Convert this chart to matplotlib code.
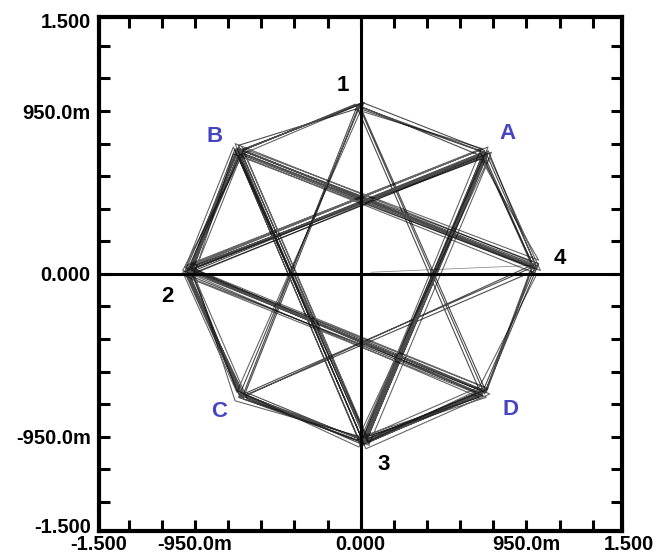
import numpy as np
import matplotlib
matplotlib.use("Agg")
import matplotlib.pyplot as plt
from matplotlib.transforms import ScaledTranslation

# symbol trajectory of the 8-point constellation (volts)
trace_x = [-0.98, -0.71, 1.01, -0.67, -1.00, 0.72, 0.01, -0.69, -0.97, 0.71,
           0.03, -0.70, 0.00, -0.72, 0.99, 0.70, -0.99, -0.69, 0.02, 0.73,
           -0.02, 0.69, -0.98, -0.70, 0.04, 0.72, 1.02, -0.68, 0.01, 0.71,
           0.00, -0.71, -1.01, 0.70, 1.00, -0.69, -0.98, 0.70, 0.01, -0.67,
           -0.99, -0.69, 0.98, 0.71, -0.01, -0.66, 0.03, 0.72, -0.97, -0.71,
           0.02, 0.69, -1.00, 0.71, -0.03, -0.70, 1.01, 0.73, 0.02, -0.68,
           -0.99, -0.72, 0.00, 0.70, -0.98, 0.70, 0.03, -0.70, 0.00, 0.72,
           0.99, -0.69, -1.00, -0.69, 0.01, 0.71, -0.99, 0.72, 1.00, -0.68,
           -0.02, 0.71, 0.02, -0.71, -0.98, 0.70, 0.02, -0.70, -0.99, -0.70,
           1.00, 0.69, 0.01, 0.72, -0.98, -0.71, -0.01]
trace_y = [0.02, 0.73, 0.05, -0.70, 0.00, 0.71, -0.97, 0.70, 0.03, -0.68,
           -0.99, -0.72, 0.99, 0.71, 0.03, 0.69, 0.02, -0.69, -1.00, 0.70,
           0.97, -0.70, -0.01, 0.74, -0.97, -0.67, 0.06, 0.72, 1.00, 0.72,
           -0.99, 0.70, 0.01, 0.71, 0.02, -0.72, 0.04, -0.71, -0.96, -0.73,
           -0.02, 0.73, 0.04, -0.70, 0.98, -0.69, -0.98, 0.69, 0.00, 0.72,
           -0.99, -0.68, 0.03, 0.68, 0.99, 0.71, 0.03, 0.72, -0.97, -0.70,
           0.01, 0.73, -1.00, -0.70, 0.02, 0.70, -0.98, 0.75, 0.97, -0.69,
           0.05, 0.71, -0.01, -0.71, -0.98, -0.69, 0.03, 0.70, 0.06, -0.72,
           0.98, 0.71, -0.99, 0.72, 0.01, -0.68, -0.97, -0.70, 0.00, 0.73,
           0.04, -0.71, -0.99, 0.71, 0.02, 0.71, 0.99]

# second capture, noisier
trace2_x = [-0.68, 0.04, 0.73, -1.01, 0.69, -0.01, -0.71, -0.96, -0.73, 1.03,
            0.74, 0.05, -0.67, -1.02, 0.68, 0.00, -0.72, -0.97, 0.68, 0.98,
            -0.72, 0.03, 0.74, -1.01, -0.69, 1.01, 0.68, -0.02, 0.75, -0.96,
            -0.65, 0.05, -0.73, -1.00, 0.73, 0.00, 0.72, -0.97, -0.67, 1.02,
            0.69, -1.02, -0.71, 0.02, -0.70, 0.04, 0.71, -0.98, 0.70, -0.03]
trace2_y = [0.74, -0.96, -0.67, 0.04, 0.73, -1.01, -0.68, -0.02, 0.70, 0.02,
            0.68, -0.99, 0.71, 0.02, -0.72, -0.95, -0.74, 0.05, 0.72, 0.07,
            0.76, -1.02, -0.70, -0.01, 0.69, 0.00, -0.66, -0.97, 0.71, 0.00,
            -0.73, -1.00, 0.74, 0.05, 0.74, -0.96, -0.72, -0.03, 0.73, 0.08,
            0.67, 0.01, -0.69, 1.00, 0.69, -0.98, -0.66, 0.04, 0.73, 0.96]

# a stray transition near the origin
stray_x = [0.06, 1.00]
stray_y = [0.01, 0.05]

# symbol names and where they are written
point_labels = ["1", "A", "4", "D", "3", "C", "2", "B"]
label_x = [-0.10, 0.84, 1.14, 0.86, 0.13, -0.81, -1.11, -0.84]
label_y = [1.10, 0.82, 0.09, -0.79, -1.11, -0.80, -0.13, 0.80]
label_colors = ["black", "#4545c2", "black", "#4545c2",
                "black", "#4545c2", "black", "#4545c2"]

tick_vals = [-1.5, -0.95, 0.0, 0.95, 1.5]
tick_text = ["-1.500", "-950.0m", "0.000", "950.0m", "1.500"]
minor_vals = [k * 0.19 for k in range(-7, 8) if k % 5 != 0]

plt.rcParams["font.family"] = "Liberation Sans"
plt.rcParams["font.weight"] = "bold"

fig = plt.figure(figsize=(6.6, 5.59), dpi=100)
ax = fig.add_axes([0.150, 0.050, 0.793, 0.920])

ax.plot(trace_x, trace_y, color="black", lw=0.8, alpha=0.7)
ax.plot(trace2_x, trace2_y, color="black", lw=0.8, alpha=0.6)
ax.plot(stray_x, stray_y, color="black", lw=0.5, alpha=0.5)

ax.axhline(0, color="black", lw=2.2)
ax.axvline(0, color="black", lw=2.2)

for txt, x, y, c in zip(point_labels, label_x, label_y, label_colors):
    ax.text(x, y, txt, color=c, fontsize=16, fontweight="bold",
            ha="center", va="center")

ax.set_xlim(-1.5, 1.5)
ax.set_ylim(-1.5, 1.5)
ax.set_xticks(tick_vals)
ax.set_xticklabels(tick_text)
ax.set_yticks(tick_vals)
ax.set_yticklabels(tick_text)
ax.set_xticks(minor_vals, minor=True)
ax.set_yticks(minor_vals, minor=True)
for which in ("major", "minor"):
    ax.tick_params(axis="both", which=which, direction="in", length=8,
                   width=2.2, top=True, right=True, labelsize=14.5)
ax.tick_params(axis="x", which="major", pad=3)
ax.tick_params(axis="y", which="major", pad=6)
for s in ax.spines.values():
    s.set_linewidth(3)

# pull the end labels in a little so the corners stay clear
def nudge(label, dx, dy):
    label.set_transform(label.get_transform()
                        + ScaledTranslation(dx / 72, dy / 72, fig.dpi_scale_trans))

ylabels = ax.get_yticklabels()
nudge(ylabels[0], 0, 4)
nudge(ylabels[-1], 0, -3)
xlabels = ax.get_xticklabels()
nudge(xlabels[-1], 5, 0)

fig.savefig("out.png", dpi=100)
